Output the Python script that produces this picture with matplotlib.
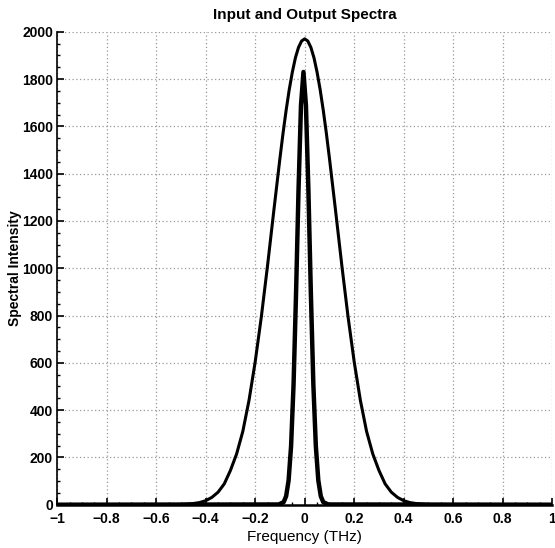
import numpy as np
import matplotlib.pyplot as plt
from matplotlib.ticker import MultipleLocator

# Werte aus dem Bild abgelesen
# breites Spektrum (Ausgang)
f_breit = [-1.0, -0.5, -0.45, -0.425, -0.4, -0.375, -0.35, -0.325, -0.3, -0.275,
           -0.25, -0.225, -0.2, -0.175, -0.15, -0.125, -0.1, -0.0875, -0.075, -0.0625,
           -0.05, -0.0375, -0.025, -0.0125, 0.0, 0.0125, 0.025, 0.0375, 0.05, 0.0625,
           0.075, 0.0875, 0.1, 0.125, 0.15, 0.175, 0.2, 0.225, 0.25, 0.275,
           0.3, 0.325, 0.35, 0.375, 0.4, 0.425, 0.45, 0.5, 1.0]
I_breit = [0, 1, 5, 9, 17, 31, 53, 88, 145, 215,
           310, 441, 604, 796, 1012, 1241, 1465, 1571, 1668, 1755,
           1829, 1890, 1934, 1961, 1970, 1961, 1934, 1890, 1829, 1755,
           1668, 1571, 1465, 1241, 1012, 796, 604, 441, 310, 215,
           145, 88, 53, 31, 17, 9, 5, 1, 0]

# schmales Spektrum (Eingang)
f_schmal = [-1.0, -0.105, -0.085, -0.075, -0.065, -0.055, -0.045, -0.035, -0.025, -0.015,
            -0.005, 0.005, 0.015, 0.025, 0.035, 0.045, 0.055, 0.065, 0.075, 0.095, 1.0]
I_schmal = [0, 1, 11, 36, 103, 248, 508, 891, 1329, 1689,
            1830, 1689, 1329, 891, 508, 248, 103, 36, 11, 1, 0]

x_ticks = np.arange(-1, 1.01, 0.2)
x_labels = ['\u22121', '\u22120.8', '\u22120.6', '\u22120.4', '\u22120.2',
            '0', '0.2', '0.4', '0.6', '0.8', '1']

plt.rcParams['font.family'] = ['Liberation Sans Narrow', 'Liberation Sans', 'DejaVu Sans']

fig = plt.figure(figsize=(5.55, 5.48), dpi=100)
achsen = fig.add_axes([0.103, 0.079, 0.892, 0.863])

achsen.plot(f_breit, I_breit, color='black', lw=2.2)
achsen.plot(f_schmal, I_schmal, color='black', lw=3.2)

achsen.set_xlim(-1, 1)
achsen.set_ylim(0, 2000)
achsen.xaxis.set_minor_locator(MultipleLocator(0.05))
achsen.yaxis.set_major_locator(MultipleLocator(200))
achsen.yaxis.set_minor_locator(MultipleLocator(50))
achsen.set_xticks(x_ticks)
achsen.set_xticklabels(x_labels)

achsen.tick_params(which='both', direction='in', top=False, right=False)
achsen.tick_params(which='major', length=5, width=1.2, labelsize=10)
achsen.tick_params(axis='x', which='major', pad=5)
achsen.tick_params(axis='y', which='major', pad=3)
achsen.tick_params(which='minor', length=2.5, width=1)
for lab in achsen.get_xticklabels() + achsen.get_yticklabels():
    lab.set_fontweight('bold')

achsen.grid(True, which='major', color='#9a9a9a', linestyle=(0, (1, 2)), lw=0.9)
achsen.spines['top'].set_visible(False)
achsen.spines['right'].set_visible(False)
achsen.spines['left'].set_linewidth(1.2)
achsen.spines['bottom'].set_linewidth(1.8)

achsen.set_title('Input and Output Spectra', fontsize=11, fontweight='bold', pad=9)
achsen.set_xlabel('Frequency (THz)', fontsize=11, labelpad=3)
achsen.set_ylabel('Spectral Intensity', fontsize=10, fontweight='bold',
                  family=['Liberation Sans', 'DejaVu Sans'])
achsen.yaxis.set_label_coords(-0.072, 0.5)

fig.savefig('out.png', dpi=100)
